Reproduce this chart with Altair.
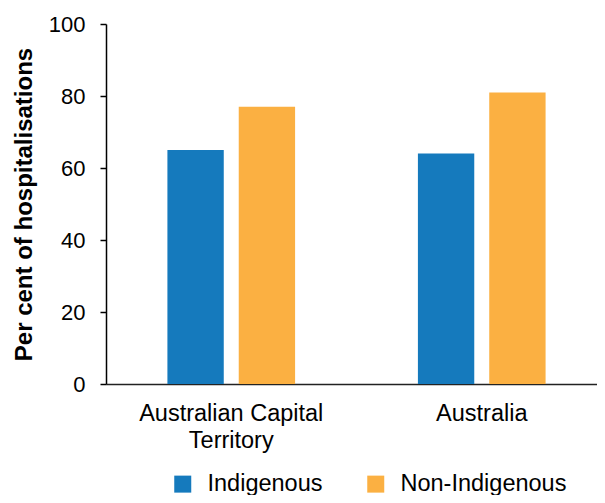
import altair as alt
import pandas as pd

regions = ["Australian Capital Territory", "Australia"]
groups = ["Indigenous", "Non-Indigenous"]
indigenous = [65, 64]
non_indigenous = [77, 81]
y_ticks = [0, 20, 40, 60, 80, 100]
colors = ["#157ABD", "#FBB042"]

rows = []
for i, r in enumerate(regions):
    rows.append({"region": r, "group": groups[0], "value": indigenous[i]})
    rows.append({"region": r, "group": groups[1], "value": non_indigenous[i]})
df = pd.DataFrame(rows)

FONT = "Liberation Sans"

chart = alt.Chart(df).mark_bar().encode(
    x=alt.X(
        "region:N",
        sort=regions,
        scale=alt.Scale(paddingInner=0, paddingOuter=0, range=[0, 501]),
        axis=alt.Axis(
            title=None,
            labelAngle=0,
            ticks=False,
            labelPadding=17,
            labelFontSize=23.5,
            labelFont=FONT,
            labelColor="#000000",
            labelLineHeight=27,
            labelLimit=400,
            labelExpr="datum.label == 'Australian Capital Territory' ? ['Australian Capital', 'Territory'] : datum.label",
            domainColor="#222222",
            domainWidth=1.5,
        ),
    ),
    xOffset=alt.XOffset(
        "group:N",
        sort=groups,
        scale=alt.Scale(paddingInner=0.21, paddingOuter=0.861),
    ),
    y=alt.Y(
        "value:Q",
        scale=alt.Scale(domain=[0, 100]),
        axis=alt.Axis(
            title="Per cent of hospitalisations",
            values=y_ticks,
            grid=False,
            tickSize=6,
            tickWidth=1.5,
            tickColor="#000000",
            domainColor="#000000",
            domainWidth=1.5,
            labelPadding=15,
            labelFontSize=22,
            labelFont=FONT,
            labelColor="#000000",
            titleFont=FONT,
            titleFontSize=24,
            titleFontWeight="bold",
            titleColor="#000000",
            titlePadding=12,
        ),
    ),
    color=alt.Color(
        "group:N",
        sort=groups,
        scale=alt.Scale(domain=groups, range=colors),
        legend=alt.Legend(
            title=None,
            orient="none",
            direction="horizontal",
            legendX=65,
            legendY=448,
            symbolType="square",
            symbolSize=289,
            symbolStrokeWidth=0,
            symbolOpacity=1,
            labelFont=FONT,
            labelFontSize=23.5,
            labelColor="#000000",
            labelOffset=13,
            labelLimit=400,
            columnPadding=41,
        ),
    ),
).properties(
    width=491,
    height=360,
    autosize=alt.AutoSizeParams(type="none"),
    padding={"left": 98, "top": 16, "right": 0, "bottom": 111},
).configure_view(stroke=None)

chart.save("out.html", embed_options={"renderer": "svg", "actions": False})
